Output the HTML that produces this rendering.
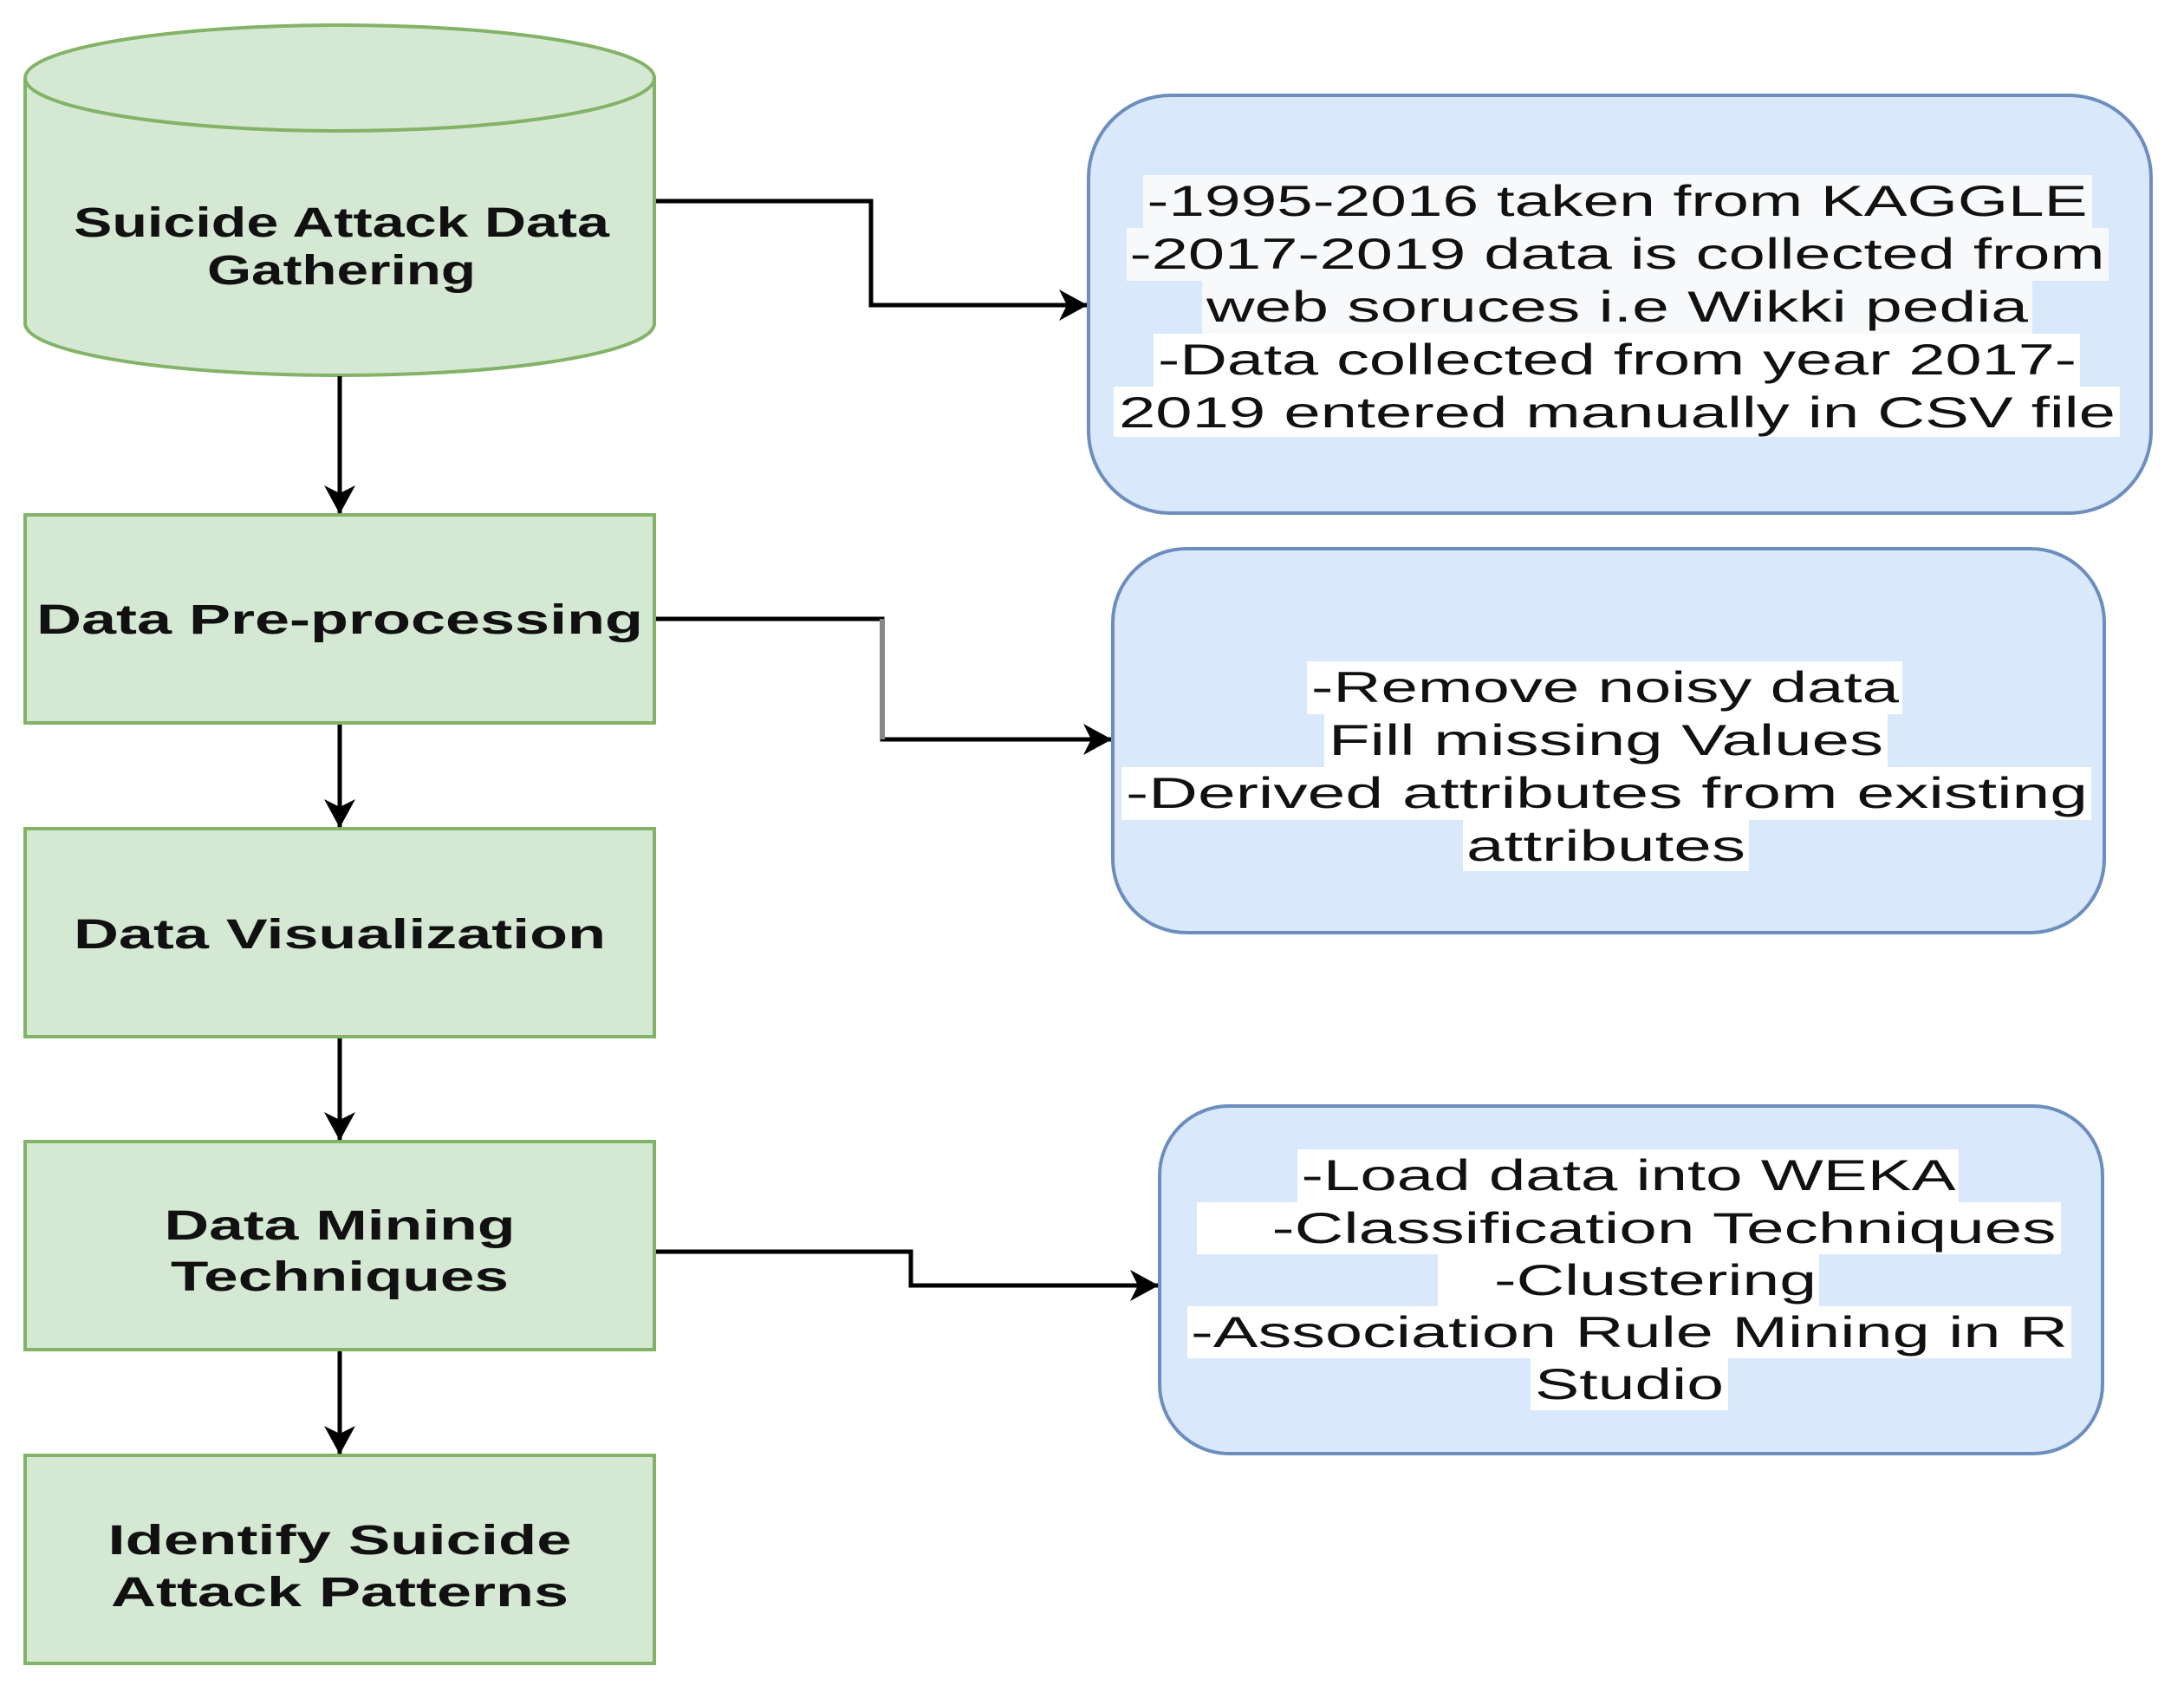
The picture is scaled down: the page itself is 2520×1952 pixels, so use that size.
<!DOCTYPE html>
<html><head><meta charset="utf-8"><style>
html,body{margin:0;padding:0;background:#fff;}
svg{display:block;}
text{font-family:"Liberation Sans",Arial,sans-serif;fill:#111;}
.l{font-size:48px;font-weight:bold;}
.r{font-size:50px;}
</style></head><body>
<svg width="2520" height="1952" viewBox="0 0 2520 1952" xmlns="http://www.w3.org/2000/svg">
<defs>
<marker id="ah" markerWidth="34" markerHeight="40" refX="32" refY="20" orient="auto" markerUnits="userSpaceOnUse">
<path d="M0,2 L33,20 L0,38 L9,20 Z" fill="#000"/>
</marker>
</defs>
<path d="M29,90 L29,373 A363,60 0 0 0 755,373 L755,90" fill="#d5e8d4" stroke="#82b366" stroke-width="4"/>
<ellipse cx="392" cy="90" rx="363" ry="61" fill="#d5e8d4" stroke="#82b366" stroke-width="4"/>
<text class="l" x="394" y="273" text-anchor="middle" textLength="618" lengthAdjust="spacingAndGlyphs">Suicide Attack Data</text>
<text class="l" x="394" y="328" text-anchor="middle" textLength="310" lengthAdjust="spacingAndGlyphs">Gathering</text>
<rect x="29" y="594" width="726" height="240" fill="#d5e8d4" stroke="#82b366" stroke-width="4"/>
<text class="l" x="392" y="731" text-anchor="middle" textLength="700" lengthAdjust="spacingAndGlyphs">Data Pre-processing</text>
<rect x="29" y="956" width="726" height="240" fill="#d5e8d4" stroke="#82b366" stroke-width="4"/>
<text class="l" x="392" y="1094" text-anchor="middle" textLength="614" lengthAdjust="spacingAndGlyphs">Data Visualization</text>
<rect x="29" y="1317" width="726" height="240" fill="#d5e8d4" stroke="#82b366" stroke-width="4"/>
<text class="l" x="392" y="1430" text-anchor="middle" textLength="405" lengthAdjust="spacingAndGlyphs">Data Mining</text>
<text class="l" x="392" y="1489" text-anchor="middle" textLength="390" lengthAdjust="spacingAndGlyphs">Techniques</text>
<rect x="29" y="1679" width="726" height="240" fill="#d5e8d4" stroke="#82b366" stroke-width="4"/>
<text class="l" x="392" y="1793" text-anchor="middle" textLength="535" lengthAdjust="spacingAndGlyphs">Identify Suicide</text>
<text class="l" x="392" y="1853" text-anchor="middle" textLength="528" lengthAdjust="spacingAndGlyphs">Attack Patterns</text>
<g stroke="#000" stroke-width="5" fill="none">
<line x1="392" y1="434" x2="392" y2="592" marker-end="url(#ah)"/>
<line x1="392" y1="836" x2="392" y2="954" marker-end="url(#ah)"/>
<line x1="392" y1="1198" x2="392" y2="1315" marker-end="url(#ah)"/>
<line x1="392" y1="1559" x2="392" y2="1677" marker-end="url(#ah)"/>
<polyline points="757,232 1005,232 1005,352 1254,352" marker-end="url(#ah)"/>
<polyline points="757,714 1018,714 1018,853 1282,853" marker-end="url(#ah)"/>
<polyline points="757,1444 1051,1444 1051,1483 1336,1483" marker-end="url(#ah)"/>
</g>
<line x1="1018" y1="714" x2="1018" y2="853" stroke="#888" stroke-width="6"/>
<rect x="1256" y="110" width="1226" height="482" rx="95" ry="95" fill="#dae8fc" stroke="#6c8ebf" stroke-width="4"/>
<rect x="1284" y="633" width="1144" height="443" rx="85" ry="85" fill="#dae8fc" stroke="#6c8ebf" stroke-width="4"/>
<rect x="1338" y="1276" width="1088" height="401" rx="80" ry="80" fill="#dae8fc" stroke="#6c8ebf" stroke-width="4"/>
<g fill="#f7f9fb">
<rect x="1319" y="202" width="1095" height="61"/>
<rect x="1300" y="263" width="1133" height="61"/>
<rect x="1387" y="324" width="958" height="61"/>
</g>
<g fill="#fff">
<rect x="1331" y="385" width="1069" height="61"/>
<rect x="1285" y="446" width="1161" height="58"/>
<rect x="1508" y="763" width="687" height="61"/>
<rect x="1528" y="824" width="650" height="61"/>
<rect x="1294" y="885" width="1119" height="61"/>
<rect x="1688" y="946" width="330" height="59"/>
<rect x="1497" y="1326" width="763" height="61"/>
<rect x="1381" y="1387" width="997" height="60"/>
<rect x="1659" y="1447" width="440" height="60"/>
<rect x="1370" y="1507" width="1020" height="60"/>
<rect x="1766" y="1567" width="228" height="60"/>
</g>
<g text-anchor="middle">
<text class="r" x="1866" y="249" textLength="1085" lengthAdjust="spacingAndGlyphs">-1995-2016 taken from KAGGLE</text>
<text class="r" x="1866" y="310" textLength="1125" lengthAdjust="spacingAndGlyphs">-2017-2019 data is collected from</text>
<text class="r" x="1866" y="371" textLength="948" lengthAdjust="spacingAndGlyphs">web soruces i.e Wikki pedia</text>
<text class="r" x="1866" y="432" textLength="1060" lengthAdjust="spacingAndGlyphs">-Data collected from year 2017-</text>
<text class="r" x="1866" y="493" textLength="1150" lengthAdjust="spacingAndGlyphs">2019 entered manually in CSV file</text>
<text class="r" x="1852" y="810" textLength="678" lengthAdjust="spacingAndGlyphs">-Remove noisy data</text>
<text class="r" x="1853" y="871" textLength="640" lengthAdjust="spacingAndGlyphs">Fill missing Values</text>
<text class="r" x="1854" y="932" textLength="1110" lengthAdjust="spacingAndGlyphs">-Derived attributes from existing</text>
<text class="r" x="1853" y="993" textLength="322" lengthAdjust="spacingAndGlyphs">attributes</text>
<text class="r" x="1879" y="1373" textLength="755" lengthAdjust="spacingAndGlyphs">-Load data into WEKA</text>
<text class="r" x="1920" y="1434" textLength="905" lengthAdjust="spacingAndGlyphs">-Classification Techniques</text>
<text class="r" x="1910" y="1494" textLength="372" lengthAdjust="spacingAndGlyphs">-Clustering</text>
<text class="r" x="1880" y="1554" textLength="1012" lengthAdjust="spacingAndGlyphs">-Association Rule Mining in R</text>
<text class="r" x="1880" y="1614" textLength="218" lengthAdjust="spacingAndGlyphs">Studio</text>
</g>
</svg>
</body></html>
